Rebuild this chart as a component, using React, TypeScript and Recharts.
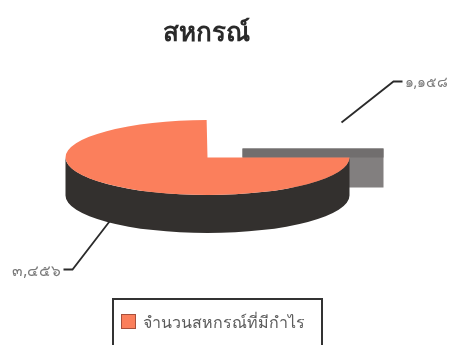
import { PieChart, Pie, Cell, Legend } from "recharts"

const sliceNames = ["อื่น ๆ", "จำนวนสหกรณ์ที่มีกำไร"]
const sliceValues = [1158, 3456]
const sliceLabels = ["๑,๑๕๘", "๓,๔๕๖"]
const sliceColors = ["#7c7979", "#fb7f5c"]

const data = sliceNames.map((name, i) => ({ name, value: sliceValues[i], text: sliceLabels[i] }))

const SQUASH = 0.264
const DEPTH = 38
const RAD = Math.PI / 180

// recharts pies are round, so flatten each sector into an ellipse and add the side wall
function FlatSector(props: any) {
  const { cx, cy, outerRadius: rx, startAngle, endAngle, fill, index } = props
  const ry = rx * SQUASH
  if (index === 0) {
    // the small slice comes out of the scan as a plain offset block
    return (
      <g>
        <rect x={cx + 35} y={cy - 9} width={141} height={39} fill="#827f7f" />
        <rect x={cx + 35} y={cy - 9} width={141} height={9} fill="#716e6e" />
      </g>
    )
  }
  const sx = cx + rx * Math.cos(startAngle * RAD)
  const sy = cy - ry * Math.sin(startAngle * RAD)
  const ex = cx + rx * Math.cos(endAngle * RAD)
  const ey = cy - ry * Math.sin(endAngle * RAD)
  const large = Math.abs(endAngle - startAngle) > 180 ? 1 : 0
  return (
    <g>
      <path
        d={`M${cx - rx},${cy} A${rx},${ry} 0 0 0 ${cx + rx},${cy} L${cx + rx},${cy + DEPTH} A${rx},${ry} 0 0 1 ${cx - rx},${cy + DEPTH} Z`}
        fill="#33302e"
      />
      <path d={`M${cx},${cy} L${sx},${sy} A${rx},${ry} 0 ${large} 0 ${ex},${ey} Z`} fill={fill} />
    </g>
  )
}

function SliceLabel(props: any) {
  const { cx, cy, index, text } = props
  const right = index === 0
  const pts = right
    ? [[cx + 134, cy - 35], [cx + 186, cy - 76], [cx + 195, cy - 76]]
    : [[cx - 98, cy + 64], [cx - 135, cy + 112], [cx - 144, cy + 112]]
  return (
    <g>
      <polyline points={pts.map((p) => p.join(",")).join(" ")} fill="none" stroke="#2b2b2b" strokeWidth={1.8} />
      <text
        x={right ? cx + 197 : cx - 146}
        y={right ? cy - 76 : cy + 112}
        textAnchor={right ? "start" : "end"}
        dominantBaseline="central"
        fontSize={right ? 14 : 15.5}
        fontFamily="Noto Sans, sans-serif"
        fill="#7a7a7a"
      >
        {text}
      </text>
    </g>
  )
}

function LegendBox({ payload }: any) {
  const item = (payload || []).find((p: any) => p.value === sliceNames[1])
  return (
    <div
      style={{
        boxSizing: "border-box",
        width: 211,
        height: 60,
        border: "2px solid #333",
        borderBottom: "none",
        display: "flex",
        alignItems: "flex-start",
        paddingTop: 12,
        paddingLeft: 7,
        background: "#fff",
      }}
    >
      <span style={{ width: 15, height: 15, background: sliceColors[1], border: "1px solid #a8503c", boxSizing: "border-box", marginRight: 7, marginTop: 2, flexShrink: 0 }} />
      <span style={{ fontSize: 16, lineHeight: "20px", color: "#5c5c5c", fontFamily: "Noto Sans, sans-serif", whiteSpace: "nowrap" }}>
        {item ? item.value : sliceNames[1]}
      </span>
    </div>
  )
}

export default function App() {
  return (
    <div style={{ position: "absolute", left: 0, top: 0, width: 459, height: 345, overflow: "hidden", background: "#fff", filter: "blur(0.4px)" }}>
      <div
        style={{
          position: "absolute",
          left: 0,
          top: 13,
          width: 412,
          textAlign: "center",
          fontSize: 26,
          fontWeight: 700,
          lineHeight: "36px",
          color: "#2a2a2a",
          fontFamily: "Noto Sans, sans-serif",
          zIndex: 2,
        }}
      >
        สหกรณ์
      </div>
      <PieChart width={459} height={345} margin={{ top: 0, right: 0, bottom: 0, left: 0 }}>
        <Pie
          data={data}
          dataKey="value"
          nameKey="name"
          cx={207.5}
          cy={157.5}
          outerRadius={142}
          startAngle={0}
          endAngle={360}
          stroke="none"
          isAnimationActive={false}
          shape={FlatSector}
          label={SliceLabel}
          labelLine={false}
        >
          {sliceColors.map((c) => (
            <Cell key={c} fill={c} />
          ))}
        </Pie>
        <Legend content={LegendBox} wrapperStyle={{ position: "absolute", left: 112, top: 298, width: 211 }} />
      </PieChart>
    </div>
  )
}
